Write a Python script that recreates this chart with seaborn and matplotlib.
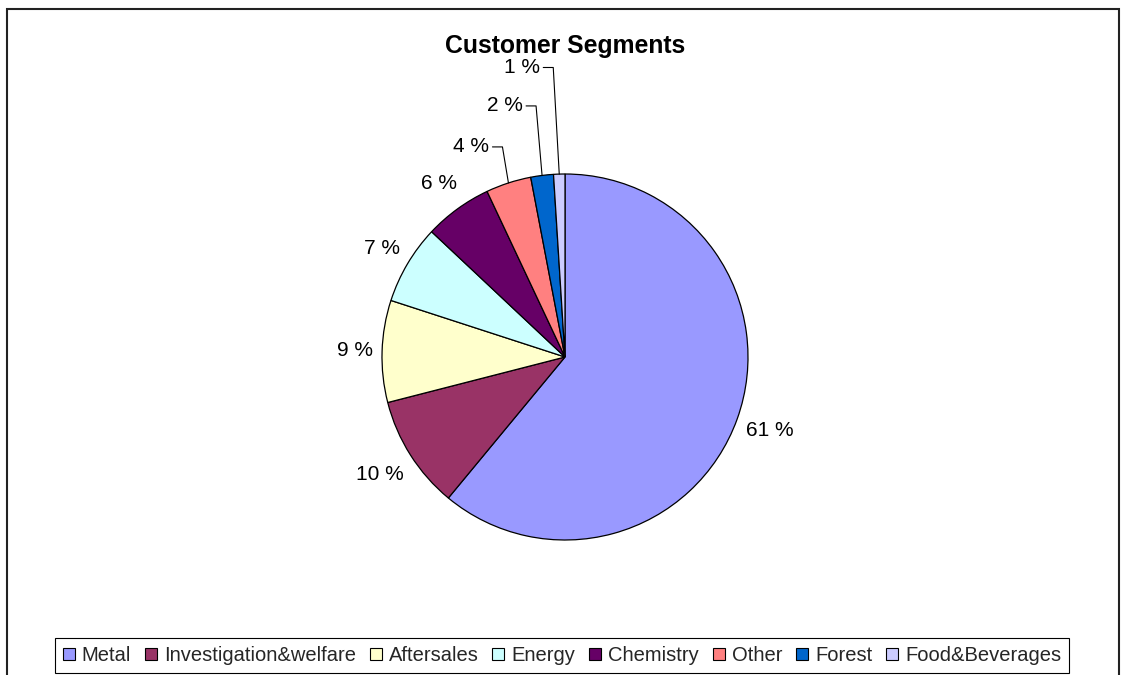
import numpy as np
import matplotlib
matplotlib.use("Agg")
import matplotlib.pyplot as plt
import seaborn as sns
from matplotlib.patches import Rectangle, Patch

# ---- data ----
segments = ["Metal", "Investigation&welfare", "Aftersales", "Energy",
            "Chemistry", "Other", "Forest", "Food&Beverages"]
shares = [61, 10, 9, 7, 6, 4, 2, 1]
colors_hex = ["#9999FF", "#993366", "#FFFFCC", "#CCFFFF",
              "#660066", "#FF8080", "#0066CC", "#CCCCFF"]
title = "Customer Segments"

sns.set_theme(style="white")
plt.rcParams['font.family'] = ['Liberation Sans', 'DejaVu Sans']
palette = sns.color_palette(colors_hex)

W, H = 1121, 675
fig = plt.figure(figsize=(W / 100, H / 100), dpi=100)
fig.patch.set_facecolor('white')

cx, cy, R = 565, 357, 183
ax = fig.add_axes([0, 0, 1, 1])
ax.pie(shares, colors=palette, startangle=90, counterclock=False, radius=1,
       wedgeprops=dict(edgecolor='black', linewidth=0.9))
ax.set_xlim(-cx / R, (W - cx) / R)
ax.set_ylim(-(H - cy) / R, cy / R)
ax.set_aspect('auto')
ax.axis('off')

# labels
label_r = [1.19, 1.20, 1.15, 1.16, 1.17]
leader_y = [1.148, 1.372, 1.582]
px = 1 / R
cum = 0
for i, v in enumerate(shares):
    th = np.deg2rad(360 * (cum + v / 2) / 100)
    cum += v
    txt = f"{v} %"
    if i < len(label_r):
        r = label_r[i]
        ax.text(r * np.sin(th), r * np.cos(th), txt, ha='center', va='center',
                fontsize=15, color='black')
    else:
        ly = leader_y[i - len(label_r)]
        ex, ey = np.sin(th), np.cos(th)
        elbow = ex - 6 * px
        ax.plot([ex, elbow, elbow - 10 * px], [ey, ly, ly], color='black', lw=0.8)
        ax.text(elbow - 13 * px, ly, txt, ha='right', va='center',
                fontsize=15, color='black')

fig.text(cx / W, 1 - 53 / H, title, ha='center', va='baseline',
         fontsize=17.8, fontweight='bold', color='black')

# outer border
fig.add_artist(Rectangle((7 / W, -0.1), (1119 - 7) / W, (1 - 9 / H) + 0.1,
                         transform=fig.transFigure, fill=False,
                         edgecolor='#222222', lw=1.5))

handles = [Patch(facecolor=c, edgecolor='black', lw=0.8, label=s)
           for s, c in zip(segments, palette)]
leg = fig.legend(handles=handles, ncol=8, loc='center',
                 bbox_to_anchor=(562 / W, 1 - 655.5 / H),
                 frameon=True, fancybox=False, edgecolor='black', framealpha=1,
                 fontsize=14.5, handlelength=0.6, handleheight=0.6,
                 handletextpad=0.35, columnspacing=0.68, borderpad=0.38)
leg.get_frame().set_linewidth(0.8)

fig.savefig('out.png', dpi=100)
